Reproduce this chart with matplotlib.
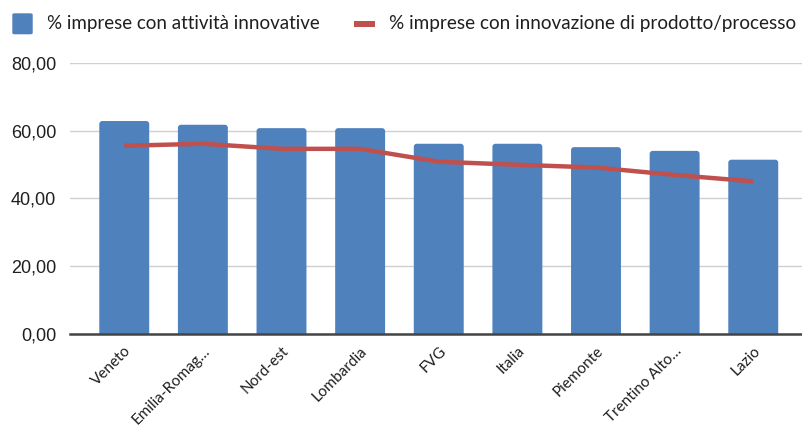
import matplotlib
matplotlib.use("Agg")
import matplotlib.pyplot as plt
from matplotlib.patches import FancyBboxPatch

regions = ["Veneto", "Emilia-Romag…", "Nord-est", "Lombardia", "FVG",
           "Italia", "Piemonte", "Trentino Alto…", "Lazio"]
attivita_innovative = [62.8, 61.7, 60.7, 60.7, 56.1, 56.1, 55.1, 54.0, 51.4]
innovazione_prodotto = [55.5, 56.1, 54.6, 54.6, 50.8, 49.9, 49.1, 46.9, 45.0]
yticks = [0, 20, 40, 60, 80]
ytick_labels = ["0,00", "20,00", "40,00", "60,00", "80,00"]
legend_labels = ["% imprese con attività innovative",
                 "% imprese con innovazione di prodotto/processo"]

BLUE = "#4F81BD"
RED = "#C0504D"
TEXT = "#1F1F1F"
W, H = 803, 426

fig = plt.figure(figsize=(W / 100, H / 100), dpi=100)
ax = fig.add_axes([70 / W, 1 - 334 / H, (802 - 70) / W, (334 - 62.7) / H])

x = list(range(len(regions)))
bars = ax.bar(x, attivita_innovative, width=0.635, color=BLUE, zorder=2)

# rounded corners on the bars
px_x = (802 - 70) / (8.62 + 0.69)
px_y = (334 - 62.7) / 80
r_x = 3.0 / px_x
for rect in bars:
    rect.set_visible(False)
    bx, by = rect.get_x(), rect.get_y()
    bw, bh = rect.get_width(), rect.get_height()
    p = FancyBboxPatch((bx, by - 3), bw, bh + 3,
                       boxstyle=f"round,pad=0,rounding_size={r_x}",
                       mutation_aspect=px_x / px_y,
                       facecolor=BLUE, edgecolor="none", zorder=2)
    ax.add_patch(p)

ax.plot(x, innovazione_prodotto, color=RED, lw=3.2, solid_joinstyle="round",
        solid_capstyle="butt", zorder=3)

ax.set_xlim(-0.69, 8.62)
ax.set_ylim(0, 80)
ax.set_yticks(yticks)
ax.set_yticklabels(ytick_labels, family="Liberation Sans", fontsize=13, color=TEXT)
ax.set_xticks(x)
ax.set_xticklabels(regions, rotation=45, ha="right", rotation_mode="anchor",
                   family="Lato", fontsize=11, color=TEXT)
ax.tick_params(axis="both", length=0)
ax.tick_params(axis="y", pad=10)
ax.tick_params(axis="x", pad=7)

ax.grid(axis="y", color="#D0D0D0", lw=1.0, zorder=0)
ax.set_axisbelow(True)
for s in ["top", "right", "left"]:
    ax.spines[s].set_visible(False)
ax.spines["bottom"].set_color("#444444")
ax.spines["bottom"].set_linewidth(1.8)
ax.spines["bottom"].set_zorder(4)

# legend drawn in figure pixels
def fx(px):
    return px / W

def fy(py):
    return 1 - py / H

fig.patches.append(FancyBboxPatch((fx(12.3), fy(34.3)), 20.4 / W, 21 / H,
                                  boxstyle="round,pad=0,rounding_size=0.003",
                                  transform=fig.transFigure, facecolor=BLUE,
                                  edgecolor="none"))
fig.patches.append(FancyBboxPatch((fx(354), fy(27.3)), 20.7 / W, 6.6 / H,
                                  boxstyle="square,pad=0",
                                  transform=fig.transFigure, facecolor=RED,
                                  edgecolor="none"))
fig.text(fx(46.7), fy(24), legend_labels[0], family="Lato", fontsize=13.5,
         va="center", ha="left", color=TEXT)
fig.text(fx(389.3), fy(24), legend_labels[1], family="Lato", fontsize=13.6,
         va="center", ha="left", color=TEXT)

fig.savefig("out.png", dpi=100)
